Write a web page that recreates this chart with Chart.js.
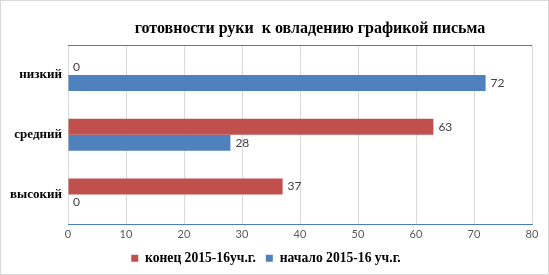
<!DOCTYPE html>
<html><head><meta charset="utf-8">
<script src="https://cdn.jsdelivr.net/npm/chart.js@4"></script>
<style>
html,body{margin:0;padding:0;background:#fff;}
canvas{display:block;}
</style></head><body>
<canvas id="c" width="549" height="275"></canvas>
<script>
const titleText = 'готовности руки  к овладению графикой письма';
const categories = ['низкий', 'средний', 'высокий'];
const seriesNames = ['конец 2015-16уч.г.', 'начало 2015-16 уч.г.'];
const endValues = [0, 63, 37];
const startValues = [72, 28, 0];
const xTicks = [0, 10, 20, 30, 40, 50, 60, 70, 80];

const RED = '#C0504D', BLUE = '#4F81BD';
const SERIF = '"Liberation Serif", "Times New Roman", serif';
const SANS = 'Lato, "Liberation Sans", sans-serif';

const deco = {
  id: 'deco',
  beforeDraw(chart) {
    const ctx = chart.ctx;
    ctx.save();
    ctx.fillStyle = '#fff';
    ctx.fillRect(0, 0, chart.width, chart.height);
    ctx.strokeStyle = '#d9d9d9';
    ctx.lineWidth = 1;
    ctx.strokeRect(0.5, 0.5, chart.width - 1, chart.height - 1);
    ctx.restore();
  },
  afterDraw(chart) {
    const ctx = chart.ctx, a = chart.chartArea;
    ctx.save();
    ctx.strokeStyle = '#4a7ebb';
    ctx.lineWidth = 1;
    ctx.beginPath();
    ctx.moveTo(a.left, Math.round(a.top) + 0.5);
    ctx.lineTo(a.right, Math.round(a.top) + 0.5);
    ctx.stroke();
    ctx.fillStyle = '#000';
    ctx.font = 'bold 16px ' + SERIF;
    ctx.textAlign = 'center';
    ctx.textBaseline = 'middle';
    ctx.fillText(titleText, (a.left + a.right) / 2 + 10, 29);
    ctx.font = '12px ' + SANS;
    ctx.fillStyle = '#404040';
    ctx.textAlign = 'left';
    chart.data.datasets.forEach((ds, di) => {
      const meta = chart.getDatasetMeta(di);
      meta.data.forEach((el, i) => {
        ctx.fillText(String(ds.data[i]), el.x + 5, el.y);
      });
    });
    ctx.restore();
  }
};

new Chart(document.getElementById('c'), {
  type: 'bar',
  data: {
    labels: categories,
    datasets: [
      { label: seriesNames[0], data: endValues, backgroundColor: RED, borderWidth: 0 },
      { label: seriesNames[1], data: startValues, backgroundColor: BLUE, borderWidth: 0 }
    ]
  },
  options: {
    indexAxis: 'y',
    responsive: false,
    animation: false,
    devicePixelRatio: 1,
    layout: { padding: { top: 45, right: 17, bottom: 0, left: 0 } },
    datasets: { bar: { categoryPercentage: 0.536, barPercentage: 1 } },
    scales: {
      x: {
        min: 0, max: 80,
        afterBuildTicks(s) { s.ticks = xTicks.map(v => ({ value: v })); },
        afterFit(s) { s.height = 17; },
        ticks: { color: '#595959', font: { family: SANS, size: 11 }, padding: 3 },
        grid: { color: '#d9d9d9', drawTicks: false },
        border: { display: true, color: '#4a7ebb', width: 1 }
      },
      y: {
        afterFit(s) { s.width = 68; },
        ticks: { color: '#000', font: { family: SERIF, size: 13, weight: 'bold' }, padding: 6 },
        grid: { display: false, drawTicks: false },
        border: { display: false }
      }
    },
    plugins: {
      title: { display: false },
      tooltip: { enabled: false },
      legend: {
        position: 'bottom',
        labels: {
          boxWidth: 7, boxHeight: 7, padding: 10,
          color: '#000',
          font: { family: SERIF, size: 13.6, weight: 'bold' }
        }
      }
    }
  },
  plugins: [deco]
});
</script>
</body></html>
